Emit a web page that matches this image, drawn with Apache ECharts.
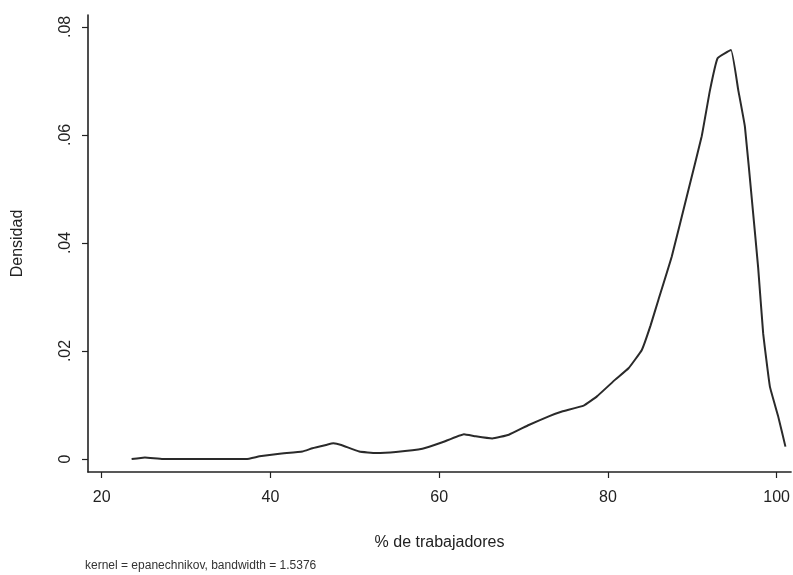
<!DOCTYPE html>
<html>
<head>
<meta charset="utf-8">
<script src="https://cdn.jsdelivr.net/npm/echarts@6/dist/echarts.min.js"></script>
<style>html,body{margin:0;padding:0;background:#fff}#c{width:793px;height:575px}</style>
</head>
<body>
<div id="c"></div>
<script>
// % de trabajadores (x) and estimated density (y)
const xValues = [23.55,25.12,27.25,31.6,37.14,38.71,41.08,43.79,44.98,46.60,47.46,48.40,50.53,52.51,54.87,58.01,60.38,62.94,64.33,66.29,68.26,70.62,72.99,74.56,77.13,78.70,80.87,82.44,84.02,85.05,85.99,87.57,89.54,91.11,92.10,93.00,94.59,95.45,96.24,97.10,97.81,98.40,99.20,100.18,101.04];
const densValues = [0.0000,0.0003,0.0000,0.0000,0.0000,0.0005,0.0010,0.0014,0.0020,0.0026,0.0029,0.0026,0.0014,0.0011,0.0013,0.0019,0.0031,0.0046,0.0042,0.0038,0.0045,0.0063,0.0079,0.0088,0.0099,0.0116,0.0147,0.0168,0.0202,0.0247,0.0295,0.0375,0.0498,0.0597,0.0683,0.0742,0.0757,0.0683,0.0615,0.0474,0.0354,0.0233,0.0134,0.0079,0.0023];
const xTicks = [20,40,60,80,100];
const yTicks = [0,0.02,0.04,0.06,0.08];
const xTitle = '% de trabajadores';
const yTitle = 'Densidad';
const note = 'kernel = epanechnikov, bandwidth = 1.5376';

const data = xValues.map((x,i)=>[x,densValues[i]]);
const chart = echarts.init(document.getElementById('c'), null, {renderer:'canvas'});
const font = 'Liberation Sans, Arial, sans-serif';
chart.setOption({
  animation:false,
  backgroundColor:'#fff',
  grid:{left:88, top:15, right:0, bottom:103, containLabel:false},
  xAxis:{
    type:'value', min:18.38, max:101.71,
    axisLine:{show:true, onZero:false, lineStyle:{color:'#222', width:1.6}},
    axisTick:{show:true, length:6, customValues:xTicks, lineStyle:{color:'#222', width:1.2}},
    axisLabel:{customValues:xTicks, margin:18, color:'#222', fontSize:16, fontFamily:font},
    splitLine:{show:false},
    name:xTitle, nameLocation:'middle', nameGap:63,
    nameTextStyle:{color:'#222', fontSize:16, fontFamily:font}
  },
  yAxis:{
    type:'value', min:-0.0024, max:0.0822,
    axisLine:{show:true, onZero:false, lineStyle:{color:'#222', width:1.6}},
    axisTick:{show:true, length:6, customValues:yTicks, lineStyle:{color:'#222', width:1.2}},
    axisLabel:{customValues:yTicks, rotate:90, margin:14, color:'#222', fontSize:16, fontFamily:font,
      formatter:v=> v===0 ? '0' : String(Number(v.toFixed(2))).replace(/^0/,'')},
    splitLine:{show:false},
    name:yTitle, nameLocation:'middle', nameGap:62, nameRotate:90,
    nameTextStyle:{color:'#222', fontSize:16, fontFamily:font}
  },
  series:[{
    type:'line', data:data, showSymbol:false, smooth:0.1,
    lineStyle:{color:'#2a2a2a', width:2}
  }],
  graphic:[{
    type:'text', left:85, top:560,
    style:{text:note, fill:'#333', fontSize:12, fontFamily:font}
  }]
});
</script>
</body>
</html>
